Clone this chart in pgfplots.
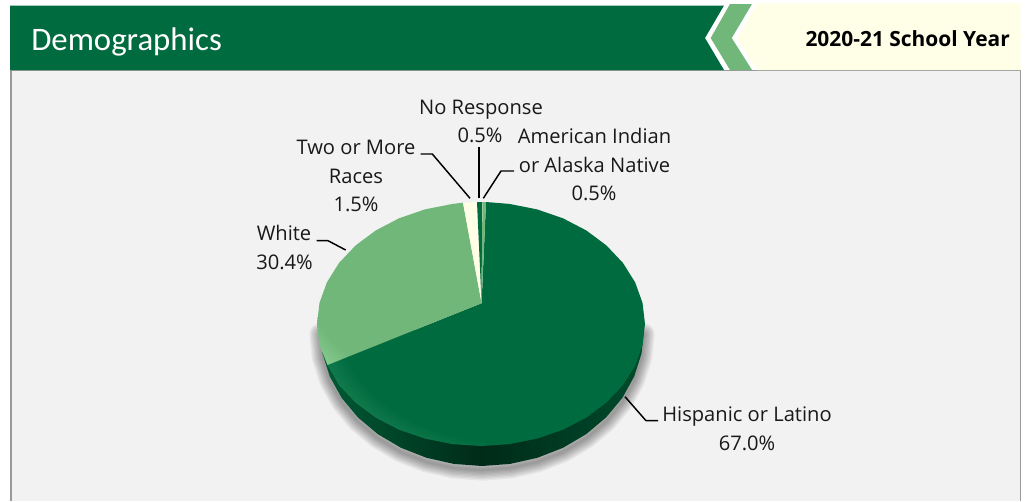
\documentclass[border=0pt]{standalone}
\usepackage{pgfplots}
\usepackage{pgfplotstable}
\usepackage{fontspec}
\pgfplotsset{compat=1.18}
\setmainfont{Open Sans}
\newfontfamily\titlefont{Carlito}

\definecolor{hdrgreen}{HTML}{006B3F}
\definecolor{midgreen}{HTML}{72B77A}
\definecolor{cream}{HTML}{FFFFE8}
\definecolor{panel}{HTML}{F2F2F2}
\definecolor{rimline}{HTML}{999999}
\definecolor{hilite}{HTML}{6FCB95}
\definecolor{hilitepale}{HTML}{9BE3A5}

% slices sit in the 50bp middle of the shading box
\pgfdeclareradialshading{hispanic}{\pgfpoint{6bp}{5bp}}{
  color(0bp)=(hdrgreen); color(27bp)=(hdrgreen);
  color(30bp)=(hdrgreen!85!hilite); color(33bp)=(hilite); color(60bp)=(hilite)}
\pgfdeclareradialshading{whiteslice}{\pgfpoint{8bp}{8bp}}{
  color(0bp)=(midgreen); color(32bp)=(midgreen);
  color(44bp)=(hilitepale); color(60bp)=(hilitepale)}
\pgfdeclarehorizontalshading{wallshade}{100bp}{
  color(0bp)=(hdrgreen!85!black); color(25bp)=(hdrgreen!85!black);
  color(50bp)=(hdrgreen!40!black); color(75bp)=(hdrgreen!70!black); color(100bp)=(hdrgreen!70!black)}

\pgfplotstableread{
x y
481.6 303.2
486 202
509.5 203.9
537.1 209.4
563 218.3
586.4 230.5
606.6 245.6
623 263
635.1 282.3
642.5 302.8
645 324
642.5 345.2
635.1 365.7
623 385
606.6 402.4
586.4 417.5
563 429.7
537.1 438.6
509.5 444.1
481 446
452.5 444.1
424.9 438.6
399 429.7
375.6 417.5
355.4 402.4
339 385
327.5 365
}\hispanic
\pgfplotstableread{
x y
481.6 303.2
327.5 365
319.5 345.2
317 324
319.5 302.8
326.9 282.3
339 263
355.4 245.6
375.6 230.5
399 218.3
424.9 209.4
452.5 203.9
463 202.7
}\whiteslice
\pgfplotstableread{
x y
320 330
322.5 353.6
329.8 376.5
341.7 398
357.9 417.4
377.9 434.2
401 447.8
426.6 457.8
453.9 463.9
482 466
510.1 463.9
537.4 457.8
563 447.8
586.1 434.2
606.1 417.4
622.3 398
634.2 376.5
641.5 353.6
644 330
}\wall

\begin{document}
\begin{tikzpicture}
\begin{axis}[
  hide axis,
  x=0.75pt, y=0.75pt,
  xmin=0, xmax=1027,
  ymin=0, ymax=501,
  y dir=reverse,
  clip=true,
]
% white page, keeps the full picture in the bounding box
\addplot[fill=white, draw=none] coordinates {(0,0) (1027,0) (1027,501) (0,501)} --cycle;
% panel and header band
\addplot[fill=panel, draw=none] coordinates {(11,70.5) (1020.7,70.5) (1020.7,501) (11,501)} --cycle;
\addplot[rimline, line width=0.9pt] coordinates {(11,501) (11,70.5) (1020.7,70.5) (1020.7,501)};
\addplot[fill=hdrgreen, draw=none] coordinates {(10,5.5) (724,5.5) (705,38) (724,70) (10,70)} --cycle;
\addplot[fill=cream, draw=none] coordinates {(757,3.3) (1020.7,3.3) (1020.7,70) (757,70) (737.3,38)} --cycle;
\addplot[fill=midgreen, draw=none] coordinates {(730,4) (752,4) (731.7,38) (752,70) (730,70) (710.7,38)} --cycle;

% soft shadow under the pie
\pgfplotsinvokeforeach{2,4,6,8,10,12,14,16}{
  \addplot[draw=black, draw opacity=0.05, line width=#1pt, line join=round, fill=none, yshift=-3pt] table {\wall} --cycle;
}
% rim, then the top face
\addplot[shade, shading=wallshade, draw=none] table {\wall} --cycle;
\addplot[shade, shading=hispanic, draw=none] table {\hispanic} --cycle;
\addplot[shade, shading=whiteslice, draw=none] table {\whiteslice} --cycle;
\addplot[fill=cream, draw=none] coordinates {(481.6,303.2) (463,202.7) (477,202)} --cycle;
\addplot[fill=hdrgreen, draw=none] coordinates {(481.6,303.2) (477,202) (482,202)} --cycle;
\addplot[fill=midgreen, draw=none] coordinates {(481.6,303.2) (482.4,202) (486,202)} --cycle;

% leader lines
\addplot[black, line width=1.1pt] coordinates {(316.7,240.7) (328,240.7) (345.7,250)};
\addplot[black, line width=1.1pt] coordinates {(420.7,154) (432.3,154) (470,198.3)};
\addplot[black, line width=1.1pt] coordinates {(479,147.3) (479,198.3)};
\addplot[black, line width=1.1pt] coordinates {(514,171) (501,171) (483.3,198.3)};
\addplot[black, line width=1.1pt] coordinates {(625,396.7) (646,420.7) (658,420.7)};

% header text
\node[anchor=base west, text=white, inner sep=0pt] at (axis cs:31,50) {\titlefont\fontsize{24.6}{28}\selectfont Demographics};
\node[anchor=base east, inner sep=0pt] at (axis cs:1010,46) {\fontsize{15.7}{18}\selectfont\bfseries 2020-21 School Year};

% slice labels
\tikzset{lab/.style={anchor=base, inner sep=0pt, text=black!90, font=\fontsize{15.1}{18}\selectfont}}
\node[lab] at (axis cs:481,114) {No Response};
\node[lab] at (axis cs:480,142) {0.5\%};
\node[lab] at (axis cs:594.5,143) {American Indian};
\node[lab] at (axis cs:594.5,172) {or Alaska Native};
\node[lab] at (axis cs:594,200) {0.5\%};
\node[lab] at (axis cs:356,154) {Two or More};
\node[lab] at (axis cs:356,183) {Races};
\node[lab] at (axis cs:356,211) {1.5\%};
\node[lab] at (axis cs:284,240) {White};
\node[lab] at (axis cs:284.5,269) {30.4\%};
\node[lab] at (axis cs:747,421) {Hispanic or Latino};
\node[lab] at (axis cs:747,450) {67.0\%};
\end{axis}
\end{tikzpicture}
\end{document}
